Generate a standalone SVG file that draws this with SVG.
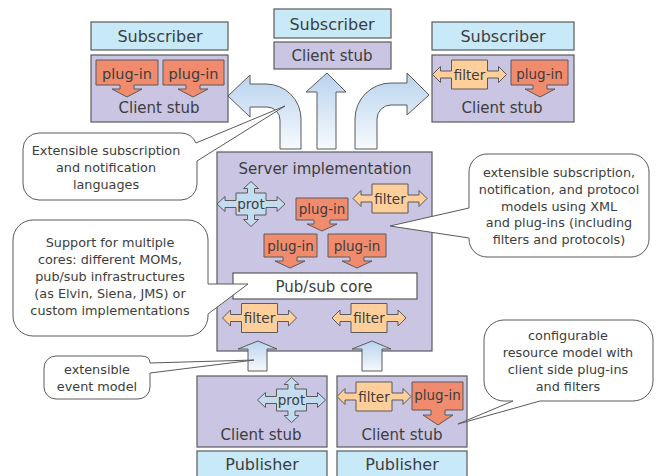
<svg xmlns="http://www.w3.org/2000/svg" xmlns:xlink="http://www.w3.org/1999/xlink" width="658" height="476" viewBox="0 0 658 476">
<style>
text{font-family:"DejaVu Sans","Liberation Sans",sans-serif;fill:#3d3d3d;text-anchor:middle}
.blue{fill:#c8e9f8;stroke:#5a5a5a;stroke-width:1.2}
.lav{fill:#c9c5e3;stroke:#5a5a5a;stroke-width:1.2}
.core{fill:#ffffff;stroke:#5a5a5a;stroke-width:1.2}
.plug{fill:#f18b6d;stroke:#5a5a5a;stroke-width:1}
.filt{fill:#fecf9b;stroke:#5a5a5a;stroke-width:1}
.prot{fill:#c4dcf0;stroke:#5a5a5a;stroke-width:1}
.big{fill:url(#grad);stroke:#5a5a5a;stroke-width:1}
.call{fill:#ffffff;stroke:#5a5a5a;stroke-width:1}
.t16{font-size:16px}
.t15{font-size:15px}
.tp{font-size:13.5px}
.tc{font-size:12.8px}
</style>
<defs>
<linearGradient id="grad" x1="0" y1="0" x2="0" y2="1">
<stop offset="0" stop-color="#b9d3ee"/>
<stop offset="1" stop-color="#f7fafd"/>
</linearGradient>
<path id="filterShape" class="filt" d="M-37,0 L-29,-8 L-29,-3.5 L-18,-3.5 L-18,-14.5 L18,-14.5 L18,-3.5 L29,-3.5 L29,-8 L37,0 L29,8 L29,3.5 L18,3.5 L18,14.5 L-18,14.5 L-18,3.5 L-29,3.5 L-29,8 Z"/>
<path id="protShape" class="prot" d="M0,-22.5 L7.5,-15.5 L3.5,-15.5 L3.5,-11 L15,-11 L15,-3.5 L26,-3.5 L26,-7.5 L34,0 L26,7.5 L26,3.5 L15,3.5 L15,11 L3.5,11 L3.5,15.5 L7.5,15.5 L0,22.5 L-7.5,15.5 L-3.5,15.5 L-3.5,11 L-15,11 L-15,3.5 L-26,3.5 L-26,7.5 L-34,0 L-26,-7.5 L-26,-3.5 L-15,-3.5 L-15,-11 L-3.5,-11 L-3.5,-15.5 L-7.5,-15.5 Z"/>
</defs>

<g id="subscriber-left">
<rect class="blue" x="91" y="22" width="137" height="28"/>
<text class="t16" x="160" y="42">Subscriber</text>
</g>
<g id="clientstub-left">
<rect class="lav" x="91" y="55" width="137" height="67"/>
<path class="plug" d="M96,60 H158 V85 H134 V89 H142 L127,97 L112,89 H120 V85 H96 Z"/>
<text class="t15" x="127" y="79" style="font-size:14.5px">plug-in</text>
<path class="plug" d="M163,60 H224 V85 H200 V89 H208 L193,97 L178,89 H186 V85 H163 Z"/>
<text class="t15" x="193.5" y="79" style="font-size:14.5px">plug-in</text>
<text class="t15" x="159" y="113">Client stub</text>
</g>

<g id="subscriber-mid">
<rect class="blue" x="274" y="9" width="117" height="29"/>
<text class="t16" x="332" y="30">Subscriber</text>
</g>
<g id="clientstub-mid">
<rect class="lav" x="274" y="42" width="117" height="27"/>
<text class="t15" x="332" y="61">Client stub</text>
</g>

<g id="subscriber-right">
<rect class="blue" x="432" y="22" width="142" height="28"/>
<text class="t16" x="503" y="42">Subscriber</text>
</g>
<g id="clientstub-right">
<rect class="lav" x="432" y="55" width="142" height="67"/>
<use href="#filterShape" x="469.5" y="74.5"/>
<text class="tp" x="469.5" y="79.5">filter</text>
<path class="plug" d="M511,60 H568 V85 H547 V89 H555 L540,97 L525,89 H533 V85 H511 Z"/>
<text class="tp" x="539.5" y="79">plug-in</text>
<text class="t15" x="502" y="113">Client stub</text>
</g>

<g id="server">
<rect class="lav" x="217" y="152" width="215" height="199"/>
<text class="t15" x="325" y="174">Server implementation</text>
<use href="#protShape" x="251" y="204"/>
<text class="tp" x="251" y="208.5">prot</text>
<use href="#filterShape" x="390" y="198.5"/>
<text class="tp" x="390" y="203.5">filter</text>
<path class="plug" d="M296,198 H348 V220 H330 V224 H337 L322,231 L307,224 H314 V220 H296 Z"/>
<text class="tp" x="322" y="214">plug-in</text>
<path class="plug" d="M264,234 H317 V257 H297 V261 H305 L290,268 L275,261 H283 V257 H264 Z"/>
<text class="tp" x="290.5" y="251">plug-in</text>
<path class="plug" d="M328,234 H386 V257 H364 V261 H372 L357,268 L342,261 H350 V257 H328 Z"/>
<text class="tp" x="357" y="251">plug-in</text>
<g id="pubsub-core">
<rect class="core" x="233" y="273" width="184" height="26"/>
<text class="t15" x="324" y="292">Pub/sub core</text>
</g>
<use href="#filterShape" x="259.5" y="318"/>
<text class="tp" x="259.5" y="323">filter</text>
<use href="#filterShape" x="369" y="318"/>
<text class="tp" x="369" y="323">filter</text>
</g>

<g id="clientstub-bottom-left">
<rect class="lav" x="197" y="376" width="130" height="71"/>
<use href="#protShape" x="291.5" y="400"/>
<text class="tp" x="291.5" y="404.5">prot</text>
<text class="t15" x="261" y="440">Client stub</text>
</g>
<g id="clientstub-bottom-right">
<rect class="lav" x="337" y="376" width="130" height="71"/>
<use href="#filterShape" x="374" y="396.5"/>
<text class="tp" x="374" y="401.5">filter</text>
<path class="plug" d="M412,382 H463 V410 H445 V415 H453 L438,425 L423,415 H431 V410 H412 Z"/>
<text class="tp" x="437.5" y="400">plug-in</text>
<text class="t15" x="402" y="440">Client stub</text>
</g>
<g id="publisher-left">
<rect class="blue" x="197" y="451" width="130" height="30"/>
<text class="t16" x="262" y="470">Publisher</text>
</g>
<g id="publisher-right">
<rect class="blue" x="337" y="451" width="130" height="30"/>
<text class="t16" x="402" y="470">Publisher</text>
</g>

<g id="connectors">
<path class="big" d="M228,96 L250,75 L250,84 L266,84 A35,35 0 0 1 301,119 L301,149 L280,149 L280,120 A13,13 0 0 0 267,107 L250,107 L250,117 Z"/>
<path class="big" d="M327,73 L346,92 L336,92 L336,149 L317,149 L317,92 L306,92 Z"/>
<path class="big" d="M429,95 L407,115 L407,105 L391,105 A14,14 0 0 0 377,119 L377,149 L355,149 L355,119 A36,36 0 0 1 391,83 L407,83 L407,73 Z"/>
<path class="big" d="M258,341 L277,349 L267,349 L267,371 L248,371 L248,349 L238,349 Z"/>
<path class="big" d="M372,341 L391,349 L382,349 L382,371 L362,371 L362,349 L352,349 Z"/>
</g>

<g id="callout-languages">
<path class="call" d="M39,133 H181 A16,16 0 0 1 196,143 L285,106 L197,161 V184 A16,16 0 0 1 181,200 H39 A16,16 0 0 1 23,184 V149 A16,16 0 0 1 39,133 Z"/>
<text class="tc" x="106" y="155">Extensible subscription</text>
<text class="tc" x="106" y="172">and notification</text>
<text class="tc" x="106" y="189">languages</text>
</g>
<g id="callout-cores">
<path class="call" d="M33,220 H188 A20,20 0 0 1 208,240 V284 L248,284 L208,314 V316 A20,20 0 0 1 188,336 H33 A20,20 0 0 1 13,316 V240 A20,20 0 0 1 33,220 Z"/>
<text class="tc" x="110" y="247">Support for multiple</text>
<text class="tc" x="110" y="264">cores: different MOMs,</text>
<text class="tc" x="110" y="281">pub/sub infrastructures</text>
<text class="tc" x="110" y="298">(as Elvin, Siena, JMS) or</text>
<text class="tc" x="110" y="315">custom implementations</text>
</g>
<g id="callout-models">
<path class="call" d="M487,154 H631 A18,18 0 0 1 649,172 V239 A18,18 0 0 1 631,257 H487 A18,18 0 0 1 469,239 V238 L390,226 L469,208 V172 A18,18 0 0 1 487,154 Z"/>
<text class="tc" x="559" y="177">extensible subscription,</text>
<text class="tc" x="559" y="194">notification, and protocol</text>
<text class="tc" x="559" y="211">models using XML</text>
<text class="tc" x="559" y="227"> and plug-ins (including</text>
<text class="tc" x="559" y="244">filters and protocols)</text>
</g>
<g id="callout-event">
<path class="call" d="M56,356 H141 Q150,356 150,363 L254,360 L150,373 V387 A12,12 0 0 1 138,399 H56 A12,12 0 0 1 44,387 V368 A12,12 0 0 1 56,356 Z"/>
<text class="tc" x="97" y="374">extensible</text>
<text class="tc" x="97" y="391">event model</text>
</g>
<g id="callout-resource">
<path class="call" d="M504,320 H633 A20,20 0 0 1 653,340 V381 A20,20 0 0 1 633,401 H540 L458,424 L513,401 H504 A20,20 0 0 1 484,381 V340 A20,20 0 0 1 504,320 Z"/>
<text class="tc" x="568" y="340">configurable</text>
<text class="tc" x="568" y="357">resource model with</text>
<text class="tc" x="568" y="374">client side plug-ins</text>
<text class="tc" x="568" y="391">and filters</text>
</g>
</svg>
